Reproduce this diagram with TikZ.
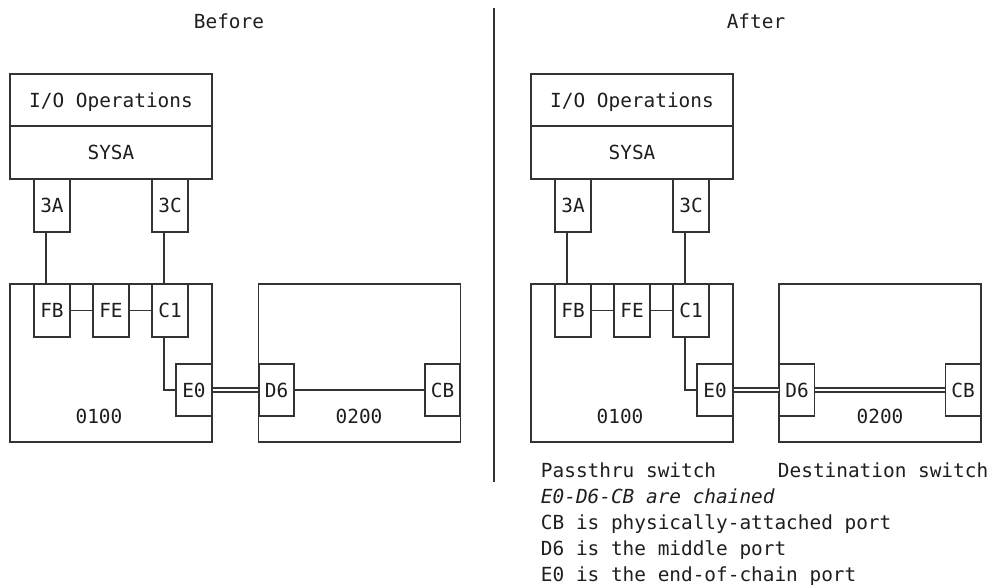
\documentclass[tikz,border=0pt]{standalone}
\usepackage{fontspec}
\setmonofont{DejaVu Sans Mono}
\usetikzlibrary{positioning}

\definecolor{linec}{HTML}{333333}
\definecolor{textc}{HTML}{1E1E1E}

\tikzset{
  port/.style={draw, fill=white, minimum width=36pt, minimum height=53pt, inner sep=0pt},
  wide/.style={draw, fill=white, minimum width=202pt, inner sep=0pt},
  dbl/.style={double=white, double distance=2.6pt},
}

\begin{document}
\begin{tikzpicture}[x=1pt, y=-1pt, color=linec, line width=1.3pt,
  font=\ttfamily\fontsize{19.4pt}{26pt}\selectfont, text height=14pt, text depth=0pt]
\useasboundingbox (0,0) rectangle (989,587);
% Titles and divider
\node[text=textc, anchor=base] (bTitle) at (229,28) {Before};
\node[text=textc, anchor=base] (aTitle) at (756,28) {After};
\coordinate (divTop) at (494,8);
\coordinate (divBot) at (494,482);
\draw (divTop) -- (divBot);

% ---- Before ----
% Host
\node[wide, minimum height=52pt, text=textc] (bOps) at (111,100) {I/O Operations};
\node[wide, minimum height=53pt, text=textc] (bSysa) at (111,152.5) {SYSA};
\node[port, text=textc] (b3A) at (52,205.5) {3A};
\node[port, text=textc] (b3C) at (170,205.5) {3C};
% Switch 0100
\node[wide, minimum height=158pt] (bSw1) at (111,363) {};
\node[text=textc] (bLab1) at (99,416) {0100};
\node[port, text=textc] (bFB) at (52,310.5) {FB};
\node[port, text=textc] (bFE) at (111,310.5) {FE};
\node[port, text=textc] (bC1) at (170,310.5) {C1};
\node[port, minimum height=52pt, text=textc] (bE0) at (194,390) {E0};
% Switch 0200
\node[wide, minimum height=158pt] (bSw2) at (359.5,363) {};
\node[text=textc] (bLab2) at (359,416) {0200};
\node[port, minimum width=35pt, minimum height=52pt, text=textc] (bD6) at (276.5,390) {D6};
\node[port, minimum width=35pt, minimum height=52pt, text=textc] (bCB) at (442.5,390) {CB};
% Links
\draw ([xshift=-6pt]b3A.south) -- ([xshift=-6pt]bFB.north);
\draw ([xshift=-6pt]b3C.south) -- ([xshift=-6pt]bC1.north);
\draw (bFB) -- (bFE) -- (bC1);
\draw ([xshift=-6pt]bC1.south) |- (bE0.west);
\draw[dbl] (bE0) -- (bD6);
\draw (bD6) -- (bCB);

% ---- After ----
% Host
\node[wide, minimum height=52pt, text=textc] (aOps) at (632,100) {I/O Operations};
\node[wide, minimum height=53pt, text=textc] (aSysa) at (632,152.5) {SYSA};
\node[port, text=textc] (a3A) at (573,205.5) {3A};
\node[port, text=textc] (a3C) at (691,205.5) {3C};
% Switch 0100
\node[wide, minimum height=158pt] (aSw1) at (632,363) {};
\node[text=textc] (aLab1) at (620,416) {0100};
\node[port, text=textc] (aFB) at (573,310.5) {FB};
\node[port, text=textc] (aFE) at (632,310.5) {FE};
\node[port, text=textc] (aC1) at (691,310.5) {C1};
\node[port, minimum height=52pt, text=textc] (aE0) at (715,390) {E0};
% Switch 0200
\node[wide, minimum height=158pt] (aSw2) at (880,363) {};
\node[text=textc] (aLab2) at (880,416) {0200};
\node[port, minimum width=35pt, minimum height=52pt, text=textc] (aD6) at (797,390) {D6};
\node[port, minimum width=35pt, minimum height=52pt, text=textc] (aCB) at (963,390) {CB};
% Links
\draw ([xshift=-6pt]a3A.south) -- ([xshift=-6pt]aFB.north);
\draw ([xshift=-6pt]a3C.south) -- ([xshift=-6pt]aC1.north);
\draw (aFB) -- (aFE) -- (aC1);
\draw ([xshift=-6pt]aC1.south) |- (aE0.west);
\draw[dbl] (aE0) -- (aD6);
\draw[dbl] (aD6) -- (aCB);

% Notes
\node[text=textc, anchor=base west] (nPass) at (537,477) {Passthru switch};
\node[text=textc, anchor=base west] (nDest) at (774,477) {Destination switch};
\node[text=textc, anchor=base west] (nChain) at (537,503) {\itshape E0-D6-CB are chained};
\node[text=textc, anchor=base west] (nCB) at (537,529) {CB is physically-attached port};
\node[text=textc, anchor=base west] (nD6) at (537,555) {D6 is the middle port};
\node[text=textc, anchor=base west] (nE0) at (537,581) {E0 is the end-of-chain port};
\end{tikzpicture}
\end{document}
